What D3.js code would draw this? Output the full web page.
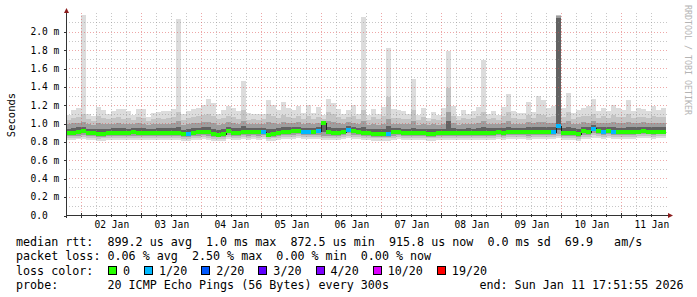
<!DOCTYPE html>
<html lang="en">
<head>
<meta charset="UTF-8">
<title>SmokePing - last 10 days</title>
<script src="https://d3js.org/d3.v7.min.js"></script>
<style>
  body { margin: 0; background: #fff; }
  svg { display: block; }
  svg text { font-family: "DejaVu Sans Mono", monospace; fill: #000; white-space: pre; }
</style>
</head>
<body>
<svg width="697" height="297"></svg>
<script>

// ---- data: 120 two-hour bins (ms), 10 days ending Sun Jan 11 17:51:55 2026 ----
const rttMax = [
  1.09, 1.15, 1.17, 2.18, 1.10, 1.08, 1.18, 1.14, 1.10, 1.13,
  1.16, 1.16, 1.13, 1.09, 1.16, 1.16, 1.07, 1.11, 1.12, 1.13,
  1.13, 1.16, 2.14, 1.10, 1.13, 1.16, 1.17, 1.20, 1.27, 1.22,
  1.10, 1.15, 1.19, 1.17, 1.13, 1.46, 1.11, 1.10, 1.10, 1.10,
  1.25, 1.20, 1.14, 1.23, 1.17, 1.15, 1.19, 1.11, 1.20, 1.11,
  1.18, 1.09, 1.27, 1.22, 1.16, 1.10, 1.15, 1.20, 1.10, 2.16,
  1.09, 1.16, 1.10, 1.18, 1.82, 1.16, 1.15, 1.13, 1.10, 1.48,
  1.09, 1.17, 1.06, 1.12, 1.09, 1.17, 1.79, 1.19, 1.08, 1.15,
  1.10, 1.13, 1.18, 1.69, 1.10, 1.13, 1.09, 1.18, 1.32, 1.13,
  1.11, 1.11, 1.23, 1.12, 1.30, 1.25, 1.17, 1.19, 2.18, 1.17,
  1.33, 1.11, 1.15, 1.17, 1.19, 1.26, 1.13, 1.17, 1.13, 1.20,
  1.17, 1.15, 1.25, 1.13, 1.17, 1.16, 1.13, 1.19, 1.15, 1.17
];
const rttP90 = [
  1.04, 1.06, 1.07, 1.10, 1.05, 1.03, 1.08, 1.06, 1.05, 1.06,
  1.07, 1.05, 1.06, 1.04, 1.07, 1.06, 1.03, 1.05, 1.06, 1.05,
  1.06, 1.07, 1.12, 1.04, 1.06, 1.07, 1.08, 1.09, 1.10, 1.08,
  1.05, 1.06, 1.08, 1.07, 1.05, 1.15, 1.04, 1.05, 1.04, 1.05,
  1.10, 1.08, 1.06, 1.09, 1.07, 1.06, 1.08, 1.05, 1.08, 1.05,
  1.07, 1.05, 1.12, 1.10, 1.07, 1.05, 1.07, 1.08, 1.05, 1.14,
  1.04, 1.07, 1.05, 1.08, 1.29, 1.06, 1.06, 1.05, 1.05, 1.15,
  1.04, 1.07, 1.03, 1.05, 1.04, 1.07, 1.38, 1.08, 1.04, 1.06,
  1.05, 1.06, 1.08, 1.12, 1.05, 1.06, 1.04, 1.08, 1.12, 1.06,
  1.05, 1.05, 1.09, 1.06, 1.10, 1.09, 1.07, 1.08, 2.18, 1.07,
  1.12, 1.05, 1.07, 1.08, 1.08, 1.10, 1.06, 1.08, 1.06, 1.09,
  1.07, 1.07, 1.10, 1.06, 1.07, 1.07, 1.06, 1.08, 1.07, 1.07
];
const rttP75 = [
  0.99, 1.00, 1.00, 1.01, 0.99, 0.98, 1.00, 0.99, 0.99, 0.99,
  1.00, 0.99, 0.99, 0.99, 1.00, 0.99, 0.98, 0.99, 0.99, 0.99,
  0.99, 1.00, 1.02, 0.98, 0.99, 1.00, 1.00, 1.01, 1.01, 1.00,
  0.98, 0.99, 1.01, 1.00, 0.99, 1.03, 0.99, 0.99, 0.99, 0.99,
  1.01, 1.00, 0.99, 1.01, 1.00, 1.00, 1.01, 0.99, 1.00, 0.99,
  1.00, 1.01, 1.02, 1.01, 1.00, 0.99, 1.01, 1.00, 0.99, 1.03,
  0.98, 0.99, 0.98, 0.99, 1.05, 0.99, 0.99, 0.99, 0.99, 1.02,
  0.98, 0.99, 0.98, 0.99, 0.98, 0.99, 1.12, 1.00, 0.98, 0.99,
  0.99, 0.99, 1.00, 1.02, 0.99, 0.99, 0.99, 1.00, 1.02, 0.99,
  0.99, 0.99, 1.01, 1.00, 1.01, 1.01, 1.00, 1.00, 2.17, 1.00,
  1.02, 0.99, 0.99, 1.01, 1.00, 1.02, 1.00, 1.00, 1.00, 1.01,
  1.00, 1.00, 1.01, 1.00, 1.00, 1.01, 1.00, 1.00, 1.00, 1.00
];
const rttP65 = [
  0.94, 0.95, 0.96, 0.96, 0.94, 0.94, 0.94, 0.94, 0.94, 0.95,
  0.95, 0.95, 0.94, 0.95, 0.95, 0.95, 0.94, 0.94, 0.95, 0.95,
  0.95, 0.95, 0.96, 0.93, 0.94, 0.95, 0.95, 0.96, 0.96, 0.94,
  0.93, 0.94, 0.96, 0.95, 0.95, 0.97, 0.95, 0.95, 0.95, 0.95,
  0.94, 0.94, 0.95, 0.96, 0.96, 0.96, 0.96, 0.95, 0.95, 0.95,
  0.96, 1.00, 0.96, 0.95, 0.95, 0.95, 0.97, 0.96, 0.95, 0.96,
  0.94, 0.94, 0.94, 0.94, 0.97, 0.95, 0.95, 0.94, 0.94, 0.95,
  0.94, 0.94, 0.94, 0.94, 0.94, 0.94, 1.02, 0.95, 0.94, 0.94,
  0.95, 0.94, 0.95, 0.96, 0.95, 0.95, 0.95, 0.95, 0.96, 0.95,
  0.95, 0.95, 0.96, 0.96, 0.96, 0.96, 0.96, 0.96, 2.15, 0.95,
  0.96, 0.95, 0.94, 0.96, 0.96, 0.98, 0.96, 0.96, 0.96, 0.96,
  0.95, 0.95, 0.96, 0.96, 0.96, 0.96, 0.96, 0.96, 0.96, 0.96
];
const rttMedian = [
  0.890, 0.890, 0.910, 0.915, 0.890, 0.890, 0.880, 0.885, 0.890, 0.895,
  0.895, 0.895, 0.895, 0.900, 0.895, 0.895, 0.890, 0.890, 0.895, 0.895,
  0.895, 0.895, 0.893, 0.880, 0.880, 0.895, 0.900, 0.900, 0.900, 0.880,
  0.878, 0.880, 0.915, 0.895, 0.895, 0.900, 0.900, 0.900, 0.900, 0.900,
  0.878, 0.885, 0.895, 0.900, 0.910, 0.912, 0.912, 0.905, 0.900, 0.905,
  0.915, 1.000, 0.900, 0.895, 0.895, 0.900, 0.930, 0.915, 0.905, 0.898,
  0.890, 0.887, 0.887, 0.885, 0.888, 0.900, 0.900, 0.895, 0.895, 0.890,
  0.890, 0.890, 0.885, 0.885, 0.890, 0.890, 0.890, 0.895, 0.890, 0.890,
  0.895, 0.890, 0.895, 0.890, 0.895, 0.895, 0.900, 0.895, 0.900, 0.900,
  0.900, 0.900, 0.900, 0.905, 0.900, 0.905, 0.905, 0.905, 0.970, 0.898,
  0.898, 0.895, 0.880, 0.915, 0.905, 0.940, 0.915, 0.905, 0.915, 0.905,
  0.900, 0.900, 0.905, 0.905, 0.910, 0.915, 0.910, 0.910, 0.910, 0.910
];
const rttP40 = [
  0.875, 0.875, 0.885, 0.890, 0.875, 0.875, 0.865, 0.870, 0.875, 0.880,
  0.880, 0.880, 0.880, 0.885, 0.880, 0.880, 0.875, 0.875, 0.880, 0.880,
  0.880, 0.880, 0.880, 0.865, 0.865, 0.880, 0.885, 0.885, 0.885, 0.865,
  0.865, 0.865, 0.895, 0.880, 0.880, 0.885, 0.885, 0.885, 0.885, 0.885,
  0.865, 0.870, 0.880, 0.885, 0.895, 0.895, 0.895, 0.890, 0.885, 0.890,
  0.895, 0.900, 0.885, 0.880, 0.880, 0.885, 0.910, 0.895, 0.890, 0.880,
  0.875, 0.870, 0.870, 0.870, 0.870, 0.885, 0.885, 0.880, 0.880, 0.875,
  0.875, 0.875, 0.870, 0.870, 0.875, 0.875, 0.875, 0.880, 0.875, 0.875,
  0.880, 0.875, 0.880, 0.875, 0.880, 0.880, 0.885, 0.880, 0.885, 0.885,
  0.885, 0.885, 0.885, 0.890, 0.885, 0.890, 0.890, 0.890, 0.930, 0.880,
  0.880, 0.880, 0.865, 0.895, 0.890, 0.915, 0.895, 0.890, 0.895, 0.890,
  0.885, 0.885, 0.890, 0.890, 0.895, 0.895, 0.895, 0.895, 0.895, 0.895
];
const rttP25 = [
  0.860, 0.860, 0.865, 0.870, 0.860, 0.860, 0.850, 0.855, 0.860, 0.860,
  0.865, 0.860, 0.865, 0.865, 0.860, 0.865, 0.860, 0.860, 0.865, 0.860,
  0.865, 0.860, 0.860, 0.850, 0.850, 0.860, 0.865, 0.870, 0.865, 0.850,
  0.850, 0.850, 0.875, 0.860, 0.865, 0.870, 0.865, 0.870, 0.865, 0.870,
  0.850, 0.855, 0.865, 0.870, 0.875, 0.875, 0.880, 0.870, 0.870, 0.870,
  0.875, 0.860, 0.865, 0.860, 0.865, 0.870, 0.890, 0.875, 0.870, 0.865,
  0.860, 0.855, 0.855, 0.855, 0.855, 0.865, 0.870, 0.860, 0.865, 0.860,
  0.860, 0.860, 0.855, 0.855, 0.860, 0.860, 0.860, 0.865, 0.860, 0.860,
  0.865, 0.860, 0.865, 0.860, 0.865, 0.865, 0.870, 0.865, 0.870, 0.870,
  0.870, 0.870, 0.865, 0.875, 0.870, 0.875, 0.870, 0.875, 0.885, 0.865,
  0.865, 0.865, 0.850, 0.875, 0.875, 0.895, 0.880, 0.875, 0.880, 0.875,
  0.870, 0.870, 0.875, 0.875, 0.880, 0.880, 0.880, 0.875, 0.880, 0.880
];
const rttP10 = [
  0.840, 0.840, 0.845, 0.850, 0.840, 0.840, 0.830, 0.835, 0.840, 0.840,
  0.845, 0.840, 0.845, 0.845, 0.840, 0.845, 0.840, 0.840, 0.845, 0.840,
  0.845, 0.840, 0.840, 0.830, 0.830, 0.840, 0.845, 0.850, 0.845, 0.830,
  0.830, 0.830, 0.855, 0.840, 0.845, 0.850, 0.845, 0.850, 0.845, 0.850,
  0.830, 0.835, 0.845, 0.850, 0.855, 0.855, 0.860, 0.850, 0.850, 0.850,
  0.855, 0.840, 0.845, 0.840, 0.845, 0.850, 0.865, 0.855, 0.850, 0.845,
  0.840, 0.835, 0.835, 0.835, 0.835, 0.845, 0.850, 0.840, 0.845, 0.840,
  0.840, 0.840, 0.835, 0.835, 0.840, 0.840, 0.840, 0.845, 0.840, 0.840,
  0.845, 0.840, 0.845, 0.840, 0.845, 0.845, 0.850, 0.845, 0.850, 0.850,
  0.850, 0.850, 0.845, 0.855, 0.850, 0.855, 0.850, 0.855, 0.860, 0.845,
  0.845, 0.845, 0.830, 0.855, 0.855, 0.870, 0.860, 0.855, 0.860, 0.855,
  0.850, 0.850, 0.855, 0.855, 0.860, 0.860, 0.860, 0.855, 0.860, 0.860
];
const rttMin = [
  0.820, 0.815, 0.825, 0.830, 0.815, 0.815, 0.805, 0.810, 0.815, 0.820,
  0.820, 0.815, 0.820, 0.820, 0.815, 0.820, 0.815, 0.815, 0.820, 0.815,
  0.820, 0.815, 0.815, 0.805, 0.805, 0.815, 0.820, 0.825, 0.820, 0.805,
  0.805, 0.805, 0.830, 0.815, 0.820, 0.825, 0.820, 0.825, 0.820, 0.825,
  0.805, 0.810, 0.820, 0.825, 0.830, 0.830, 0.835, 0.825, 0.825, 0.825,
  0.830, 0.815, 0.820, 0.815, 0.820, 0.825, 0.840, 0.830, 0.825, 0.820,
  0.815, 0.810, 0.810, 0.810, 0.810, 0.820, 0.825, 0.815, 0.820, 0.815,
  0.815, 0.815, 0.810, 0.810, 0.815, 0.815, 0.815, 0.820, 0.815, 0.815,
  0.820, 0.815, 0.820, 0.815, 0.820, 0.820, 0.825, 0.820, 0.825, 0.825,
  0.825, 0.825, 0.820, 0.830, 0.825, 0.830, 0.825, 0.830, 0.835, 0.820,
  0.820, 0.820, 0.805, 0.830, 0.830, 0.845, 0.835, 0.830, 0.835, 0.830,
  0.825, 0.825, 0.830, 0.830, 0.835, 0.835, 0.835, 0.830, 0.835, 0.835
];
// lost pings (of 20) per bin
const lossCount = [
  0, 0, 0, 0, 0, 0, 0, 0, 0, 0,
  0, 0, 0, 0, 0, 0, 0, 0, 0, 0,
  0, 0, 0, 0, 1, 0, 0, 0, 0, 0,
  0, 0, 0, 0, 0, 0, 0, 0, 0, 1,
  0, 0, 0, 0, 0, 0, 0, 1, 1, 0,
  1, 0, 0, 0, 0, 0, 1, 0, 0, 0,
  0, 0, 0, 0, 1, 0, 0, 0, 0, 0,
  0, 0, 0, 0, 0, 0, 0, 0, 0, 0,
  0, 0, 0, 0, 0, 0, 0, 0, 0, 0,
  0, 0, 0, 0, 0, 0, 0, 1, 1, 0,
  0, 0, 0, 0, 0, 1, 0, 1, 0, 1,
  0, 0, 0, 0, 0, 0, 0, 0, 0, 0
];

const yTickValues = [0, 0.2, 0.4, 0.6, 0.8, 1.0, 1.2, 1.4, 1.6, 1.8, 2.0];
const yTickLabels = ["0.0", "0.2 m", "0.4 m", "0.6 m", "0.8 m", "1.0 m",
                     "1.2 m", "1.4 m", "1.6 m", "1.8 m", "2.0 m"];
const dayLabels = ["02 Jan", "03 Jan", "04 Jan", "05 Jan", "06 Jan",
                   "07 Jan", "08 Jan", "09 Jan", "10 Jan", "11 Jan"];

const lossLevels = [0, 1, 2, 3, 4, 10, 19];
const lossLabels = ["0", "1/20", "2/20", "3/20", "4/20", "10/20", "19/20"];
const lossColors = ["#26ff00", "#00b8ff", "#0059ff", "#5e00ff", "#7e00ff", "#dd00ff", "#ff0000"];

const legendLines = [
  "median rtt:  899.2 us avg  1.0 ms max  872.5 us min  915.8 us now  0.0 ms sd  69.9   am/s",
  "packet loss: 0.06 % avg  2.50 % max  0.00 % min  0.00 % now"
];
const probeText = "probe:       20 ICMP Echo Pings (56 Bytes) every 300s";
const endText = "end: Sun Jan 11 17:51:55 2026";

// ---- chart ----
const svg = d3.select("svg");
const endTime = new Date(2026, 0, 11, 17, 51, 55);
const startTime = d3.timeDay.offset(endTime, -10);
const binStart = rttMedian.map((_, i) => d3.timeHour.offset(startTime, i * 2));
const binEnd = binStart.map(d => d3.timeHour.offset(d, 2));

const x = d3.scaleTime().domain([startTime, endTime]).range([66, 666]);
const y = d3.scaleLinear().domain([0, 2.2]).range([215, 13.3]);
const plotTop = y(2.2), plotBottom = 215;

const px = v => Math.round(v) + 0.5;

// smoke: nested bands, darker toward the median
const bands = [
  { lo: rttMin, hi: rttMax, fill: "#dcdcdc" },
  { lo: rttP10, hi: rttP90, fill: "#c4c4c4" },
  { lo: rttP25, hi: rttP75, fill: "#9e9e9e" },
  { lo: rttP40, hi: rttP65, fill: "#626262" }
];
const smoke = svg.append("g").attr("shape-rendering", "crispEdges");
bands.forEach(b => {
  smoke.append("g").selectAll("rect")
    .data(d3.range(binStart.length))
    .join("rect")
    .attr("x", i => Math.round(x(binStart[i])))
    .attr("width", i => Math.round(x(binEnd[i])) - Math.round(x(binStart[i])))
    .attr("y", i => Math.round(y(b.hi[i])))
    .attr("height", i => Math.max(1, Math.round(y(b.lo[i])) - Math.round(y(b.hi[i]))))
    .attr("fill", b.fill);
});

// grid (drawn over the smoke, half transparent like rrdtool)
const grid = svg.append("g").attr("shape-rendering", "crispEdges").attr("stroke-dasharray", "1,2");
const minorY = d3.range(1, 22).map(k => k / 10).filter(v => Math.round(v * 10) % 2 === 1);
const majorY = yTickValues.slice(1);
grid.selectAll(".gy").data(minorY).join("line")
  .attr("x1", 66).attr("x2", 667)
  .attr("y1", d => px(y(d))).attr("y2", d => px(y(d)))
  .attr("stroke", "rgba(143,143,143,0.5)");
const sixHours = d3.timeHour.every(6).range(startTime, endTime).filter(d => d.getHours() !== 0);
const midnights = d3.timeDay.range(d3.timeDay.ceil(startTime), endTime);
grid.selectAll(".gx").data(sixHours).join("line")
  .attr("x1", d => px(x(d))).attr("x2", d => px(x(d)))
  .attr("y1", plotTop).attr("y2", plotBottom)
  .attr("stroke", "rgba(143,143,143,0.5)");
grid.selectAll(".my").data(majorY).join("line")
  .attr("x1", 66).attr("x2", 667)
  .attr("y1", d => px(y(d))).attr("y2", d => px(y(d)))
  .attr("stroke", "rgba(222,80,80,0.5)");
grid.selectAll(".mx").data(midnights).join("line")
  .attr("x1", d => px(x(d))).attr("x2", d => px(x(d)))
  .attr("y1", plotTop).attr("y2", plotBottom)
  .attr("stroke", "rgba(222,80,80,0.5)");

// median: dark step line, then loss-coloured band on top
const medPts = binStart.map((d, i) => [x(d), y(rttMedian[i])]);
medPts.push([x(binEnd[binEnd.length - 1]), y(rttMedian[rttMedian.length - 1])]);
svg.append("path")
  .attr("d", d3.line().curve(d3.curveStepAfter)(medPts))
  .attr("fill", "none").attr("stroke", "#202020").attr("stroke-width", 1)
  .attr("shape-rendering", "crispEdges");

const lossColor = c => {
  let k = 0;
  lossLevels.forEach((lv, j) => { if (c >= lv) k = j; });
  return lossColors[k];
};
svg.append("g").attr("shape-rendering", "crispEdges").selectAll("rect")
  .data(d3.range(binStart.length))
  .join("rect")
  .attr("x", i => Math.round(x(binStart[i])))
  .attr("width", i => Math.round(x(binEnd[i])) - Math.round(x(binStart[i])))
  .attr("y", i => Math.round(y(rttMedian[i])) - 2)
  .attr("height", 4)
  .attr("fill", i => lossColor(lossCount[i]));

// axes
const axisColor = "#333";
const arrowColor = "#8b1c1c";
const yAxis = svg.append("g").attr("transform", "translate(66.5,0)")
  .call(d3.axisLeft(y).tickValues(yTickValues).tickSize(3)
    .tickFormat((d, i) => yTickLabels[i]));
yAxis.select(".domain").remove();
yAxis.selectAll(".tick line").attr("stroke", axisColor).attr("shape-rendering", "crispEdges")
  .attr("transform", "translate(0,0.5)");
yAxis.selectAll(".tick text")
  .attr("x", 30.5 - 66.5).attr("text-anchor", "start")
  .attr("font-size", 9.6).attr("font-family", "DejaVu Sans Mono, monospace");

const noons = midnights.map(d => d3.timeHour.offset(d, 12));
const xAxis = svg.append("g").attr("transform", `translate(0,${plotBottom + 0.5})`)
  .call(d3.axisBottom(x).tickValues(noons).tickSize(0).tickPadding(6)
    .tickFormat((d, i) => dayLabels[i]));
xAxis.select(".domain").remove();
xAxis.selectAll(".tick text")
  .attr("font-size", 9.6).attr("font-family", "DejaVu Sans Mono, monospace");

const ticks = svg.append("g").attr("shape-rendering", "crispEdges").attr("stroke", axisColor);
ticks.selectAll(".tx").data(midnights).join("line")
  .attr("x1", d => px(x(d))).attr("x2", d => px(x(d)))
  .attr("y1", plotBottom - 2).attr("y2", plotBottom + 3);
ticks.selectAll(".tn").data(sixHours).join("line")
  .attr("x1", d => px(x(d))).attr("x2", d => px(x(d)))
  .attr("y1", plotBottom - 1).attr("y2", plotBottom + 2);

svg.append("line")
  .attr("x1", 66).attr("x2", 670).attr("y1", plotBottom + 0.5).attr("y2", plotBottom + 0.5)
  .attr("stroke", axisColor).attr("shape-rendering", "crispEdges");
svg.append("line")
  .attr("x1", 66.5).attr("x2", 66.5).attr("y1", plotBottom + 3).attr("y2", 11)
  .attr("stroke", axisColor).attr("shape-rendering", "crispEdges");
svg.append("path").attr("d", "M64,13 L69,13 L66.5,8 Z").attr("fill", arrowColor);
svg.append("path").attr("d", "M668,213 L668,218 L673,215.5 Z").attr("fill", arrowColor);

// axis title and watermark
svg.append("text")
  .attr("transform", "translate(15,115) rotate(-90)")
  .attr("text-anchor", "middle")
  .attr("font-family", "DejaVu Sans, sans-serif")
  .attr("font-size", 10.5)
  .text("Seconds");
svg.append("text")
  .attr("transform", "translate(684.5,5) rotate(90)")
  .attr("font-size", 8.3)
  .style("fill", "#b4b4b4")
  .text("RRDTOOL / TOBI OETIKER");

// legend
const legendSize = 11.7;
const rowY = [245.5, 260, 274.5, 289];
legendLines.forEach((t, i) => {
  svg.append("text").attr("x", 16).attr("y", rowY[i])
    .attr("font-size", legendSize).text(t);
});
svg.append("text").attr("x", 16).attr("y", rowY[2])
  .attr("font-size", legendSize).text("loss color:");
let lx = 108;
lossLabels.forEach((lab, i) => {
  svg.append("rect")
    .attr("x", lx + 0.5).attr("y", rowY[2] - 8.5).attr("width", 8).attr("height", 8)
    .attr("fill", lossColors[i]).attr("stroke", "#000").attr("shape-rendering", "crispEdges");
  const t = svg.append("text").attr("x", lx + 15).attr("y", rowY[2])
    .attr("font-size", legendSize).text(lab);
  lx = lx + 15 + t.node().getComputedTextLength() + 14;
});
svg.append("text").attr("x", 16).attr("y", rowY[3])
  .attr("font-size", legendSize).text(probeText);
svg.append("text").attr("x", 683.5).attr("y", rowY[3]).attr("text-anchor", "end")
  .attr("font-size", legendSize).text(endText);

</script>
</body>
</html>
